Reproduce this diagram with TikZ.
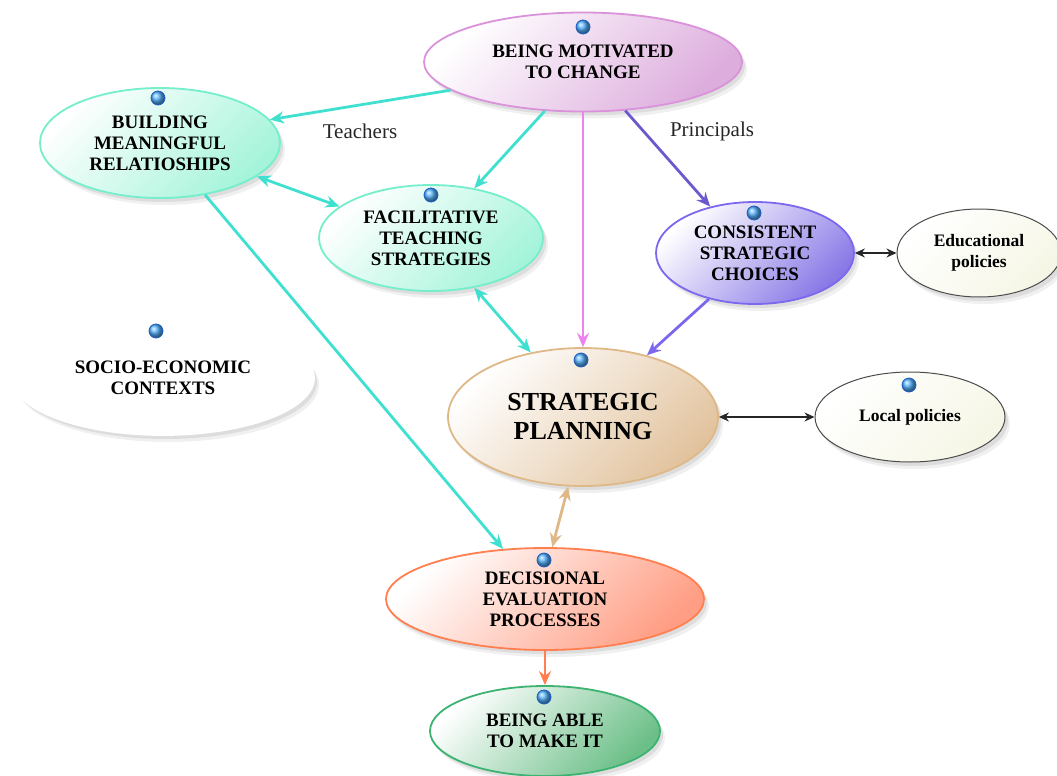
\documentclass[tikz,border=0pt]{standalone}
\usepackage{fontspec}
\setmainfont{Liberation Serif}
\newfontfamily\serf{Liberation Serif}
\usetikzlibrary{shapes.geometric,arrows.meta,shadows}
\definecolor{turq}{HTML}{40E0D0}
\definecolor{aquab}{HTML}{74EECB}
\definecolor{aquaf}{HTML}{A4F4DA}
\definecolor{pinkb}{HTML}{DA92DA}
\definecolor{pinkf}{HTML}{DDADDD}
\definecolor{violetl}{HTML}{EE82EE}
\definecolor{slateb}{HTML}{7B68EE}
\definecolor{slatef}{HTML}{8878E6}
\definecolor{slatel}{HTML}{6A5ACD}
\definecolor{tanb}{HTML}{DEB887}
\definecolor{tanf}{HTML}{E2C39E}
\definecolor{coralb}{HTML}{FF7F50}
\definecolor{coralf}{HTML}{FF9E85}
\definecolor{greenb}{HTML}{3CB371}
\definecolor{greenf}{HTML}{6CBF88}
\definecolor{ivory}{HTML}{F6F6E6}
\definecolor{dotb}{HTML}{1E5FC8}
\definecolor{dotf}{HTML}{58B4FF}
\tikzset{
  softshadow/.style={
    drop shadow={shadow xshift=5pt, shadow yshift=-7pt, opacity=0.06, fill=black},
    drop shadow={shadow xshift=3pt, shadow yshift=-4pt, opacity=0.08, fill=black}},
  bub/.style={ellipse, draw, line width=1.8pt, inner sep=0pt, align=center,
    font=\serf\bfseries\fontsize{19}{21}\selectfont, softshadow},
  grad/.style={top color=white, bottom color=#1, shading angle=45},
  bluedot/.style={circle, minimum size=14pt, inner sep=0pt, ball color=dotf, draw=dotb, line width=0.8pt},
  conn/.style={line width=2.8pt, -{Stealth[length=14pt,width=12pt]}},
  bconn/.style={line width=2.8pt, {Stealth[length=14pt,width=12pt]}-{Stealth[length=14pt,width=12pt]}},
  kconn/.style={line width=1.3pt, black!85, {Stealth[length=10pt,width=9pt]}-{Stealth[length=10pt,width=9pt]}},
  lbl/.style={font=\serf\fontsize{21}{23}\selectfont, text=black!85},
}
\begin{document}
\begin{tikzpicture}[x=1pt,y=-1pt]
\useasboundingbox (0,0) rectangle (1057,776);

% nodes
\node[bub, draw=white, fill=white, minimum width=302pt, minimum height=114pt]
  (soc) at (163,378) {SOCIO-ECONOMIC\\CONTEXTS};
\node[bub, draw=pinkb, grad=pinkf, minimum width=318pt, minimum height=99pt] (mot) at (583,62) {BEING MOTIVATED\\TO CHANGE};
\node[bub, draw=aquab, grad=aquaf, minimum width=240pt, minimum height=110pt] (bld) at (160,143) {BUILDING\\MEANINGFUL\\RELATIOSHIPS};
\node[bub, draw=aquab, grad=aquaf, minimum width=224pt, minimum height=106pt] (fac) at (431,238) {FACILITATIVE\\TEACHING\\STRATEGIES};
\node[bub, draw=slateb, grad=slatef, minimum width=198pt, minimum height=102pt] (con) at (755,253) {CONSISTENT\\STRATEGIC\\CHOICES};
\node[bub, draw=black!70, line width=1pt, grad=ivory, minimum width=164pt, minimum height=88pt,
  font=\serf\bfseries\fontsize{17.5}{21}\selectfont] (edu) at (979,253) {Educational\\policies};
\node[bub, draw=tanb, grad=tanf, minimum width=270pt, minimum height=138pt,
  font=\serf\bfseries\fontsize{26}{29}\selectfont] (sp) at (583,417) {STRATEGIC\\PLANNING};
\node[bub, draw=black!70, line width=1pt, grad=ivory, minimum width=190pt, minimum height=90pt,
  font=\serf\bfseries\fontsize{17.5}{21}\selectfont] (loc) at (910,417) {Local policies};
\node[bub, draw=coralb, grad=coralf, minimum width=318pt, minimum height=102pt] (dec) at (545,599) {DECISIONAL\\EVALUATION\\PROCESSES};
\node[bub, draw=greenb, grad=greenf, minimum width=230pt, minimum height=90pt] (abl) at (545,731) {BEING ABLE\\TO MAKE IT};

% connectors
\draw[conn, turq] (mot.192) -- (bld.12);
\draw[conn, turq] (mot.232) -- (fac.49);
\draw[conn, violetl] (mot.south) -- (sp.north);
\draw[conn, slatel] (mot.311) -- (con.134);
\draw[bconn, turq] (bld.341) -- (fac.161);
\draw[conn, turq] (bld.311) -- (dec.130);
\draw[bconn, turq] (fac.311) -- (sp.129);
\draw[conn, slateb] (con.225) -- (sp.44);
\draw[kconn] (con.east) -- (edu.west);
\draw[kconn] (sp.east) -- (loc.west);
\draw[bconn, tanb] (sp.258) -- (dec.82);
\draw[conn, coralb] (dec.south) -- (abl.north);

% labels
\node[lbl] (teach) at (360,131) {Teachers};
\node[lbl] (princ) at (712,131) {Principals};

% dots
\node[bluedot] (dmot) at (583,27) {};
\node[bluedot] (dbld) at (158,98) {};
\node[bluedot] (dfac) at (431,195) {};
\node[bluedot] (dcon) at (754,213) {};
\node[bluedot] (dsoc) at (156,331) {};
\node[bluedot] (dsp) at (581,360) {};
\node[bluedot] (dloc) at (909,385) {};
\node[bluedot] (ddec) at (544,560) {};
\node[bluedot] (dabl) at (544,697) {};
\end{tikzpicture}
\end{document}
